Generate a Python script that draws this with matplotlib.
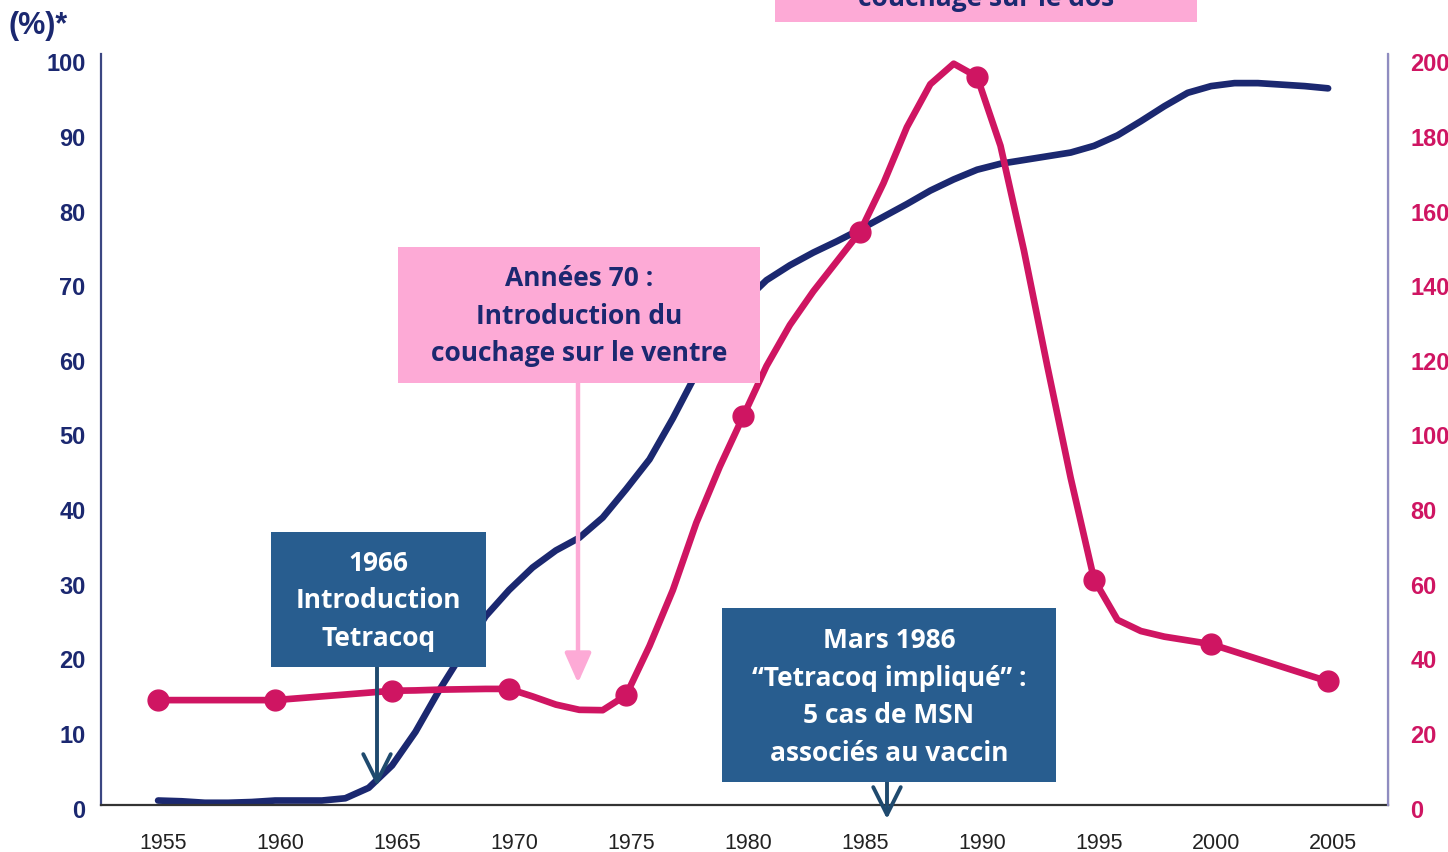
import matplotlib
matplotlib.use('Agg')
import matplotlib.pyplot as plt
from matplotlib.patches import Rectangle, FancyArrowPatch
from matplotlib.transforms import ScaledTranslation

# ---------------------------------------------------------------
# Données
# ---------------------------------------------------------------
annees = list(range(1955, 2006))

# couchage sur le ventre (%), axe de gauche
couchage_ventre = [
    0.3, 0.2, 0.0, 0.0, 0.1, 0.3, 0.3, 0.3, 0.6, 2.0,
    5.0, 9.5, 15.0, 20.0, 25.0, 28.5, 31.5, 33.8, 35.5, 38.2,
    42.0, 46.0, 51.5, 57.5, 63.0, 67.0, 70.0, 72.0, 73.7, 75.2,
    76.8, 78.5, 80.2, 82.0, 83.5, 84.8, 85.6, 86.1, 86.6, 87.1,
    88.0, 89.4, 91.3, 93.3, 95.1, 96.0, 96.4, 96.4, 96.2, 96.0,
    95.7,
]

# MSN, axe de droite
msn = [
    27.5, 27.5, 27.5, 27.5, 27.5, 27.5, 28.0, 28.5, 29.0, 29.5,
    30.0, 30.1, 30.3, 30.4, 30.5, 30.5, 28.5, 26.3, 24.9, 24.8,
    28.8, 42.0, 57.0, 75.0, 90.0, 103.5, 117.0, 128.0, 137.0, 145.0,
    153.0, 166.0, 181.0, 192.5, 198.0, 194.5, 176.0, 148.0, 117.0, 87.0,
    59.8, 49.0, 46.0, 44.5, 43.5, 42.5, 40.5, 38.5, 36.5, 34.5,
    32.5,
]

annees_ticks = list(range(1955, 2010, 5))
ticks_gauche = list(range(0, 110, 10))
ticks_droite = list(range(0, 220, 20))

NAVY = '#1b2870'
PINK = '#cf1562'
BOX_BLUE = '#285d8f'
BOX_PINK = '#fdaad6'
ARROW_DARK = '#1f4a6e'

W, H = 1448, 852

def fx(px):
    return px / W

def fy(py):
    return 1 - py / H

# ---------------------------------------------------------------
# Figure
# ---------------------------------------------------------------
fig = plt.figure(figsize=(14.48, 8.52), dpi=100)
ax = fig.add_axes([fx(101), fy(805), fx(1388) - fx(101), fy(54) - fy(805)])
ax2 = ax.twinx()

ax.plot(annees, couchage_ventre, color=NAVY, lw=4.8,
        solid_capstyle='round', solid_joinstyle='round')

ax2.plot(annees, msn, color=PINK, lw=4.8,
         solid_capstyle='round', solid_joinstyle='round')
marq_x = [a for a in annees if a % 5 == 0]
marq_y = [v for a, v in zip(annees, msn) if a % 5 == 0]
ax2.plot(marq_x, marq_y, 'o', color=PINK, ms=15, mec=PINK)

ax.set_xlim(1952.56, 2007.56)
ax.set_ylim(-0.3, 100.3)
ax2.set_ylim(-0.6, 200.6)

ax.set_xticks(annees_ticks)
ax.set_xticklabels([str(a) for a in annees_ticks], fontsize=15.5,
                   family='Liberation Sans', color='#222222')
ax.set_yticks(ticks_gauche)
ax.set_yticklabels([str(t) for t in ticks_gauche], fontsize=17,
                   family='Liberation Sans', fontweight='bold', color=NAVY)
ax2.set_yticks(ticks_droite)
ax2.set_yticklabels([str(t) for t in ticks_droite], fontsize=17,
                    family='Liberation Sans', fontweight='bold', color=PINK)

ax.tick_params(axis='both', length=0)
ax.tick_params(axis='x', pad=20)
ax.tick_params(axis='y', pad=11)
ax2.tick_params(axis='y', length=0, pad=16)

# petit décalage des étiquettes comme sur l'original
for lab in ax.get_xticklabels():
    lab.set_transform(lab.get_transform() + ScaledTranslation(0.05, 0, fig.dpi_scale_trans))
for lab in ax.get_yticklabels() + ax2.get_yticklabels():
    lab.set_transform(lab.get_transform() + ScaledTranslation(0, -0.06, fig.dpi_scale_trans))

for a in (ax, ax2):
    a.spines['top'].set_visible(False)
ax.spines['left'].set_color('#3b4682')
ax.spines['left'].set_linewidth(1.6)
ax.spines['bottom'].set_color('#333333')
ax.spines['bottom'].set_linewidth(1.6)
ax2.spines['right'].set_color('#8f8cc0')
ax2.spines['right'].set_linewidth(1.6)
ax2.spines['left'].set_visible(False)
ax2.spines['bottom'].set_visible(False)

fig.text(fx(8), fy(26), '(%)*', fontsize=22, fontweight='bold',
         family='Liberation Sans', color=NAVY, va='center', ha='left')

# ---------------------------------------------------------------
# Encadrés et flèches
# ---------------------------------------------------------------
TAILLE = 19

def encadre(x0, y0, x1, y1, couleur, texte, couleur_texte, ty=None):
    fig.patches.append(Rectangle((fx(x0), fy(y1)), fx(x1) - fx(x0), fy(y0) - fy(y1),
                                 transform=fig.transFigure, facecolor=couleur,
                                 edgecolor='none', zorder=2))
    if ty is None:
        ty = (y0 + y1) / 2
    fig.text(fx((x0 + x1) / 2), fy(ty), texte, ha='center', va='center',
             fontsize=TAILLE, fontweight='bold', family='Open Sans',
             color=couleur_texte, linespacing=1.5, zorder=3)

def fleche(x, y0, y1, couleur, style, lw, ms):
    fig.add_artist(FancyArrowPatch((fx(x), fy(y0)), (fx(x), fy(y1)),
                                   transform=fig.transFigure, arrowstyle=style,
                                   color=couleur, lw=lw, mutation_scale=ms,
                                   shrinkA=0, shrinkB=0, zorder=2))

# encadré du haut (coupé par le bord, comme sur l'original)
fig.patches.append(Rectangle((fx(775), fy(22)), fx(1197) - fx(775), fy(-60) - fy(22),
                             transform=fig.transFigure, facecolor=BOX_PINK,
                             edgecolor='none', zorder=2))
fig.text(fx(986), fy(6), 'couchage sur le dos', ha='center', va='baseline',
         fontsize=TAILLE, fontweight='bold', family='Open Sans', color=NAVY, zorder=3)

encadre(398, 247, 760, 383, BOX_PINK,
        'Années 70 :\nIntroduction du\ncouchage sur le ventre', NAVY, ty=316)
fleche(578, 383, 683, BOX_PINK, '-|>,head_length=0.9,head_width=0.4', 3.2, 20)

encadre(271, 532, 486, 667, BOX_BLUE, '1966\nIntroduction\nTetracoq', 'white', ty=601)
fleche(377, 667, 786, ARROW_DARK, '->,head_length=0.9,head_width=0.45', 2.8, 22)

encadre(722, 608, 1056, 782, BOX_BLUE,
        'Mars 1986\n“Tetracoq impliqué” :\n5 cas de MSN\nassociés au vaccin', 'white', ty=697)
fleche(887, 782, 819, ARROW_DARK, '->,head_length=0.9,head_width=0.45', 2.8, 22)

fig.savefig('out.png', dpi=100, facecolor='white')
